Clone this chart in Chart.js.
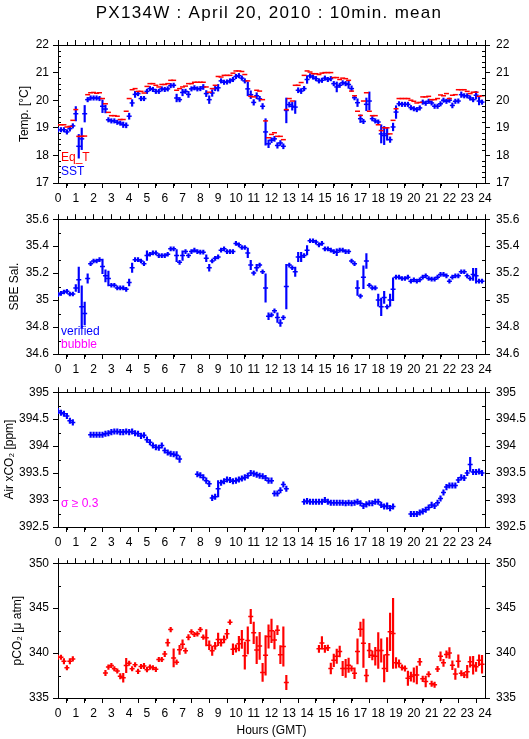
<!DOCTYPE html>
<html><head><meta charset="utf-8">
<script src="https://cdn.jsdelivr.net/npm/chart.js@4/dist/chart.umd.min.js"></script>
<style>
html,body{margin:0;padding:0;background:#fff;}
body{width:529px;height:739px;position:relative;overflow:hidden;}
canvas{position:absolute;left:0;}
</style></head><body>
<canvas id="c1" width="529" height="205" style="top:0px"></canvas>
<canvas id="c2" width="529" height="170" style="top:206px"></canvas>
<canvas id="c3" width="529" height="170" style="top:379px"></canvas>
<canvas id="c4" width="529" height="189" style="top:550px"></canvas>
<script>
// ---- sampling times: 10-minute means over the day (hours GMT) ----
const HOURS = Array.from({length:144}, (_, i) => i / 6);
const X_TICKS = [0,1,2,3,4,5,6,7,8,9,10,11,12,13,14,15,16,17,18,19,20,21,22,23,24];

// ---- Panel 1: temperature ----
const eqT = [19.11,19.11,19.11,19.03,19.05,19.27,19.66,18.69,18.69,18.70,20.20,20.27,20.28,20.25,20.27,20.06,19.87,19.56,19.44,19.44,19.42,19.30,19.30,19.60,20.06,20.38,20.42,20.32,20.32,20.26,20.50,20.60,20.60,20.54,20.48,20.57,20.57,20.60,20.72,20.72,20.36,20.42,20.48,20.51,20.60,20.60,20.65,20.65,20.65,20.65,20.48,20.29,20.42,20.54,20.86,20.84,20.90,20.90,20.90,20.98,21.06,21.06,21.04,20.93,20.70,20.14,20.12,20.36,20.33,20.02,19.25,18.64,18.76,18.82,18.69,18.69,18.57,19.66,20.06,19.97,20.54,20.54,20.64,20.90,21.06,21.02,20.96,20.96,20.93,20.98,21.00,21.00,21.00,20.82,20.82,20.75,20.80,20.78,20.72,20.33,20.16,19.60,19.45,19.97,20.27,19.60,19.44,19.44,19.11,18.90,19.00,19.00,18.78,19.27,19.69,20.06,20.06,20.06,20.06,20.00,19.96,19.90,19.92,20.12,20.12,20.14,20.02,20.02,20.06,20.19,20.16,20.24,20.06,20.18,20.20,20.38,20.38,20.38,20.32,20.24,20.29,20.29,20.14,20.16];
const sst = [18.93,18.93,18.93,18.85,18.97,19.07,19.51,18.33,18.60,19.51,20.02,20.08,20.08,20.08,20.06,19.78,19.68,19.29,19.25,19.25,19.20,19.17,19.11,19.09,19.42,19.90,20.21,20.24,20.06,20.06,20.32,20.42,20.39,20.32,20.32,20.41,20.39,20.41,20.53,20.54,20.08,20.02,20.28,20.32,20.21,20.41,20.45,20.41,20.42,20.48,20.24,20.02,20.26,20.42,20.45,20.70,20.65,20.66,20.70,20.75,20.86,20.89,20.80,20.70,20.41,20.20,19.92,20.16,20.05,19.78,18.85,18.42,18.55,18.60,18.36,18.45,18.33,19.63,19.84,19.78,19.75,20.36,20.33,20.42,20.75,20.88,20.84,20.78,20.70,20.72,20.80,20.75,20.78,20.60,20.48,20.54,20.63,20.60,20.57,20.42,20.09,19.91,19.33,19.23,19.85,19.97,19.33,19.25,19.21,18.78,18.72,18.78,18.57,19.03,19.57,19.87,19.85,19.85,19.85,19.73,19.69,19.66,19.72,19.93,19.89,19.96,19.90,19.78,19.78,19.87,20.00,19.96,20.00,19.81,19.96,19.97,20.20,20.16,20.16,20.08,20.02,20.18,19.97,19.93];
const sstErr = [.08,.08,.08,.08,.09,.08,.26,.43,.39,.30,.08,.08,.08,.08,.08,.23,.14,.08,.08,.08,.08,.08,.10,.09,.11,.12,.11,.08,.08,.08,.08,.08,.08,.08,.08,.08,.08,.08,.08,.08,.14,.08,.12,.08,.11,.08,.08,.08,.08,.09,.11,.14,.12,.08,.12,.08,.08,.08,.08,.08,.08,.08,.08,.08,.25,.14,.10,.11,.09,.10,.48,.14,.09,.09,.10,.09,.09,.45,.09,.14,.23,.09,.09,.08,.14,.08,.08,.08,.08,.08,.08,.08,.08,.08,.18,.08,.08,.08,.14,.10,.08,.14,.14,.08,.23,.33,.08,.08,.08,.33,.33,.23,.10,.14,.23,.08,.08,.08,.08,.08,.08,.08,.08,.08,.08,.08,.08,.08,.08,.08,.08,.08,.08,.09,.08,.08,.10,.08,.08,.08,.08,.14,.14,.08];

// ---- Panel 2: salinity ----
const sal = [35.04,35.05,35.06,35.065,35.045,35.045,35.09,35.15,34.95,34.90,35.16,35.27,35.29,35.29,35.30,35.25,35.18,35.16,35.11,35.11,35.09,35.09,35.09,35.08,35.13,35.24,35.30,35.30,35.29,35.27,35.33,35.34,35.35,35.35,35.33,35.33,35.33,35.34,35.38,35.38,35.33,35.28,35.33,35.36,35.33,35.36,35.37,35.36,35.355,35.355,35.31,35.24,35.29,35.31,35.32,35.37,35.38,35.36,35.36,35.36,35.42,35.41,35.39,35.39,35.35,35.26,35.20,35.24,35.26,35.21,35.09,34.88,34.89,34.92,34.87,34.83,34.87,35.10,35.26,35.24,35.21,35.32,35.32,35.33,35.37,35.44,35.44,35.43,35.41,35.42,35.38,35.38,35.37,35.36,35.355,35.37,35.37,35.36,35.36,35.29,35.27,35.09,35.03,35.17,35.29,35.11,35.09,35.09,35.00,34.95,35.02,34.95,35.00,35.08,35.17,35.17,35.16,35.16,35.17,35.14,35.15,35.14,35.15,35.17,35.18,35.16,35.155,35.155,35.17,35.19,35.19,35.18,35.14,35.17,35.18,35.18,35.21,35.21,35.18,35.16,35.19,35.18,35.14,35.14];
const salErr = [.015,.015,.015,.015,.015,.015,.025,.095,.155,.085,.035,.015,.015,.015,.015,.055,.045,.055,.015,.015,.015,.015,.015,.015,.025,.035,.015,.015,.015,.015,.035,.015,.015,.015,.015,.015,.015,.015,.015,.015,.045,.015,.035,.015,.015,.015,.015,.015,.015,.015,.025,.025,.015,.015,.015,.015,.015,.015,.015,.015,.015,.015,.015,.015,.035,.035,.015,.025,.015,.015,.105,.025,.015,.015,.035,.025,.015,.165,.015,.015,.035,.035,.035,.015,.035,.015,.015,.015,.015,.015,.015,.015,.015,.015,.025,.015,.015,.015,.015,.015,.015,.055,.015,.085,.055,.015,.015,.015,.045,.065,.045,.015,.045,.085,.015,.015,.015,.015,.015,.015,.015,.015,.015,.015,.015,.015,.015,.015,.015,.015,.015,.015,.015,.015,.015,.015,.015,.015,.015,.015,.045,.055,.015,.015];

// ---- Panel 3: atmospheric xCO2 ----
const airCO2 = [394.65,394.62,394.60,394.56,394.47,394.44,null,null,null,null,null,394.21,394.21,394.21,394.21,394.21,394.23,394.24,394.26,394.27,394.27,394.26,394.26,394.27,394.26,394.27,394.24,394.23,394.19,394.20,394.12,394.07,394.01,393.98,393.97,394.01,393.92,393.88,393.86,393.85,393.83,393.76,null,null,null,null,null,393.48,393.46,393.42,393.36,393.30,393.04,393.06,393.21,393.32,393.35,393.38,393.37,393.35,393.36,393.38,393.40,393.42,393.45,393.50,393.49,393.47,393.45,393.44,393.41,393.36,393.36,393.12,393.12,393.18,393.29,393.21,null,null,null,null,null,392.97,392.98,392.97,392.97,392.97,392.97,392.97,393.00,392.97,392.95,392.95,392.95,392.95,392.95,392.94,392.95,392.94,392.95,392.97,392.94,392.89,392.92,392.94,392.94,392.97,392.97,392.91,392.88,392.89,392.85,392.88,null,null,null,null,null,392.74,392.74,392.74,392.77,392.79,392.82,392.86,392.91,392.89,392.95,393.03,393.14,393.24,393.27,393.27,393.27,393.37,393.42,393.41,393.50,393.66,393.52,393.52,393.53,393.50];
const airErr = [.05,.05,.05,.05,.05,.05,0,0,0,0,0,.05,.05,.05,.05,.05,.05,.05,.05,.05,.05,.05,.05,.05,.05,.05,.05,.05,.05,.05,.05,.05,.05,.05,.05,.05,.05,.05,.05,.05,.07,.06,0,0,0,0,0,.05,.05,.05,.05,.05,.05,.05,.15,.05,.05,.05,.05,.05,.05,.05,.05,.05,.05,.05,.05,.05,.05,.05,.05,.05,.05,.05,.05,.05,.05,.05,0,0,0,0,0,.05,.05,.05,.05,.05,.05,.05,.05,.05,.05,.05,.05,.05,.05,.05,.05,.05,.05,.05,.05,.05,.05,.05,.05,.05,.05,.05,.05,.06,.05,.05,0,0,0,0,0,.05,.05,.05,.05,.05,.05,.05,.05,.05,.05,.05,.05,.05,.05,.05,.05,.05,.05,.05,.05,.13,.05,.05,.05,.05];

// ---- Panel 4: seawater pCO2 ----
const pCO2 = [339.53,339.53,339.10,338.37,339.10,339.35,null,null,null,null,null,null,null,null,null,null,337.79,338.44,338.62,338.26,338.00,337.43,337.25,338.62,338.87,338.26,338.70,337.97,338.51,338.55,338.15,338.44,338.37,338.19,339.28,339.28,339.89,341.16,342.61,339.46,338.99,340.36,340.98,340.25,341.77,342.36,342.07,342.14,342.61,341.77,341.70,340.87,340.25,340.80,341.52,341.16,341.52,342.14,343.44,340.43,340.51,341.05,341.52,339.71,341.41,344.06,342.25,340.33,340.80,337.85,339.75,341.85,342.47,341.45,342.55,339.82,340.73,336.73,null,null,null,null,null,null,null,null,null,null,340.47,341.13,340.47,340.58,338.29,339.20,339.64,340.18,338.29,338.29,338.65,338.29,337.75,340.18,342.65,341.09,337.49,340.29,339.75,339.64,340.29,340.29,338.29,339.82,342.36,342.18,338.91,338.84,338.40,338.29,337.20,337.38,337.56,337.56,339.02,337.13,336.84,337.64,336.58,336.47,338.22,339.64,338.91,339.85,340.00,338.65,337.67,339.09,337.75,337.56,337.93,339.02,338.65,338.47,339.20,338.76];
const pCO2Err = [.25,.25,.3,.25,.3,.25,0,0,0,0,0,0,0,0,0,0,.3,.25,.25,.25,.25,.3,.5,.8,.25,.25,.25,.25,.25,.3,.25,.25,.25,.25,.25,.25,.3,.4,.25,1.0,.25,.5,.5,.3,.3,.25,.25,.25,.25,.25,.9,.5,.5,.4,.7,.4,.4,.5,.25,.6,.4,.8,1.0,1.5,1.5,.8,1.2,1.5,1.5,1.0,2.2,1.3,1.3,1.0,.5,1.0,2.2,.8,0,0,0,0,0,0,0,0,0,0,.4,.7,.4,.3,.6,.7,.8,.6,.8,1.0,.8,.3,.6,1.4,.8,2.7,.7,.8,.5,1.0,2.0,1.3,1.5,1.9,2.1,3.9,.6,.4,.3,.3,.8,.5,.8,1.0,.4,.3,.6,.3,.3,.3,.3,.5,.4,.4,.6,.5,.6,.7,.3,.3,.7,.6,1.0,.5,.6,1.0];

// ---- texts ----
const TITLE = 'PX134W : April 20, 2010 : 10min. mean';
const Y_TITLES = ['Temp. [°C]', 'SBE Sal.', 'Air xCO₂ [ppm]', 'pCO₂ [μ atm]'];
const X_TITLE = 'Hours (GMT)';

const FONT = "'Liberation Sans', Arial, Helvetica, sans-serif";
const BLUE = '#0000ff', RED = '#ff0000', MAG = '#ff00ff';

function pts(vals) {
  const out = [];
  vals.forEach((v, i) => { if (v != null) out.push({x: HOURS[i], y: v}); });
  return out;
}
function bars(vals, errs) {
  const out = [];
  vals.forEach((v, i) => { if (v != null) out.push({x: HOURS[i], y: [v - errs[i], v + errs[i]]}); });
  return out;
}
function markerDs(vals, color) {
  return {type: 'scatter', data: pts(vals), showLine: false, pointStyle: 'line', pointRadius: 2.5,
    pointBorderWidth: 1.5, borderColor: color, pointBorderColor: color, backgroundColor: color, order: 0};
}
function errDs(vals, errs, color) {
  return {type: 'bar', data: bars(vals, errs), backgroundColor: color, borderWidth: 0,
    barThickness: 1.5, grouped: false, order: 1};
}

const decor = {
  id: 'decor',
  afterDraw(chart, args, o) {
    const ctx = chart.ctx, a = chart.chartArea;
    ctx.save();
    ctx.strokeStyle = '#000'; ctx.lineWidth = 1;
    ctx.beginPath();
    const ys = chart.scales.y;
    const n = Math.round((o.yMax - o.yMin) / o.yMinor);
    const nMajor = Math.round(o.yStep / o.yMinor);
    for (let k = 1; k < n; k++) {
      if (k % nMajor === 0) continue;
      const v = o.yMin + k * o.yMinor;
      const p = Math.round(ys.getPixelForValue(v)) + 0.5;
      ctx.moveTo(a.left, p); ctx.lineTo(a.left + 3, p);
      ctx.moveTo(a.right, p); ctx.lineTo(a.right - 3, p);
    }
    const xs = chart.scales.x;
    for (let h = 0; h < 24; h++) {
      const p = Math.round(xs.getPixelForValue(h + 0.5)) + 0.5;
      ctx.moveTo(p, a.bottom); ctx.lineTo(p, a.bottom + 3);
      ctx.moveTo(p, a.top); ctx.lineTo(p, a.top - 3);
    }
    ctx.stroke();
    for (const t of (o.texts || [])) {
      ctx.fillStyle = t.color || '#000';
      ctx.font = (t.size || 12) + 'px ' + FONT;
      ctx.textAlign = t.align || 'left';
      ctx.textBaseline = 'middle';
      if (t.spacing) ctx.letterSpacing = t.spacing;
      ctx.fillText(t.text, t.x, t.y);
      ctx.letterSpacing = '0px';
    }
    ctx.restore();
  }
};

function panel(id, c) {
  const tickFont = {family: FONT, size: 12};
  const gridOpt = {drawOnChartArea: false, drawTicks: true, tickLength: 5, color: '#000', lineWidth: 1};
  const borderOpt = {display: true, color: '#000', width: 1};
  const fmt = v => String(+(+v).toFixed(2));
  const yAxis = (pos) => ({
    type: 'linear', position: pos, min: c.yMin, max: c.yMax,
    ticks: {stepSize: c.yStep, maxTicksLimit: 100, color: '#000', font: tickFont, padding: pos === 'left' ? 4 : 6, callback: fmt},
    grid: gridOpt, border: borderOpt,
    title: pos === 'left' ? {display: true, text: c.yTitle, color: '#000', font: {family: FONT, size: 12}, padding: {top: c.yTitlePad, bottom: 0}} : {display: false},
    afterFit: s => { s.width = pos === 'left' ? 58 : 44; }
  });
  return new Chart(document.getElementById(id), {
    type: 'scatter',
    data: {datasets: c.datasets},
    options: {
      responsive: false, animation: false, events: [],
      layout: {padding: {top: c.padTop, left: 0, right: 0, bottom: 0}},
      plugins: {legend: {display: false}, tooltip: {enabled: false}, title: {display: false},
        decor: {yMin: c.yMin, yMax: c.yMax, yStep: c.yStep, yMinor: c.yMinor, texts: c.texts}},
      scales: {
        x: {type: 'linear', position: 'bottom', min: 0, max: 24, offset: false,
          afterBuildTicks: s => { s.ticks = X_TICKS.map(v => ({value: v})); },
          ticks: {stepSize: 1, autoSkip: false, maxRotation: 0, minRotation: 0, color: '#000', font: tickFont, padding: 3, callback: fmt},
          grid: gridOpt, border: borderOpt,
          title: c.xTitle ? {display: true, text: c.xTitle, color: '#000', font: {family: FONT, size: 12}, padding: {top: 0, bottom: 1}} : {display: false},
          afterFit: s => { s.height = c.bottomH; }},
        xt: {type: 'linear', position: 'top', min: 0, max: 24, offset: false,
          afterBuildTicks: s => { s.ticks = X_TICKS.map(v => ({value: v})); },
          ticks: {display: false, stepSize: 1, autoSkip: false},
          grid: gridOpt, border: borderOpt,
          afterFit: s => { s.height = 10; }},
        y: yAxis('left'),
        y2: yAxis('right')
      }
    },
    plugins: [decor]
  });
}

panel('c1', {yMin: 17, yMax: 22, yStep: 1, yMinor: 0.2, yTitle: Y_TITLES[0], yTitlePad: 17, padTop: 35, bottomH: 22,
  datasets: [markerDs(eqT, RED), errDs(sst, sstErr, BLUE), markerDs(sst, BLUE)],
  texts: [{text: TITLE, x: 269, y: 13, size: 17, align: 'center', spacing: '1.3px'},
          {text: 'Eq_T', x: 61, y: 158, color: RED}, {text: 'SST', x: 61, y: 172, color: BLUE}]});
panel('c2', {yMin: 34.6, yMax: 35.6, yStep: 0.2, yMinor: 0.1, yTitle: Y_TITLES[1], yTitlePad: 7, padTop: 0, bottomH: 22,
  datasets: [errDs(sal, salErr, BLUE), markerDs(sal, BLUE)],
  texts: [{text: 'verified', x: 61, y: 126, color: BLUE}, {text: 'bubble', x: 61, y: 139, color: MAG}]});
panel('c3', {yMin: 392.5, yMax: 395, yStep: 0.5, yMinor: 0.25, yTitle: Y_TITLES[2], yTitlePad: 2, padTop: 0, bottomH: 22,
  datasets: [errDs(airCO2, airErr, BLUE), markerDs(airCO2, BLUE)],
  texts: [{text: 'σ ≥ 0.3', x: 61, y: 125, color: MAG}]});
panel('c4', {yMin: 335, yMax: 350, yStep: 5, yMinor: 2.5, yTitle: Y_TITLES[3], yTitlePad: 10, padTop: 0, bottomH: 41, xTitle: X_TITLE,
  datasets: [errDs(pCO2, pCO2Err, RED), markerDs(pCO2, RED)],
  texts: []});
</script>
</body></html>
